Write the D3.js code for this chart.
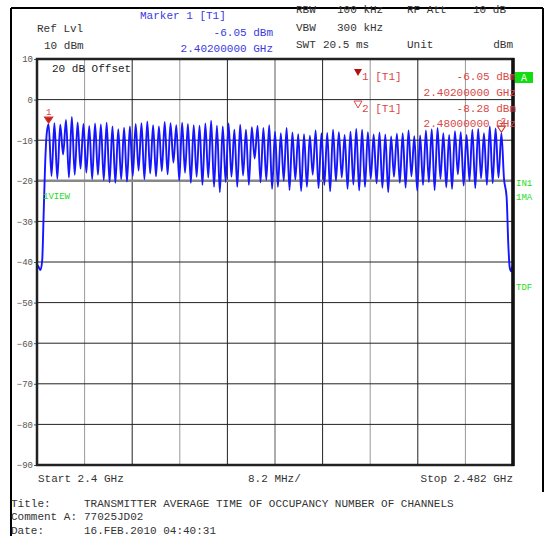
<!DOCTYPE html>
<html><head><meta charset="utf-8">
<script src="https://cdn.jsdelivr.net/npm/d3@7"></script>
<style>html,body{margin:0;padding:0;background:#fff;}svg{display:block;}text{font-family:"Liberation Mono","DejaVu Sans Mono",monospace;}</style>
</head><body>
<script>
// ---- data ----
const startMHz = 2400, stopMHz = 2482;
const yTicks = [10, 0, -10, -20, -30, -40, -50, -60, -70, -80, -90];
const firstChannelMHz = 2402;
const peaks = [
 -6.05,-5.8,-6.2,-5.0,-4.3,-5.6,-6.0,-6.5,-5.9,-6.1,
 -5.7,-6.6,-7.3,-6.9,-6.6,-6.0,-5.8,-5.4,-6.3,-6.6,
 -5.5,-5.8,-6.3,-5.7,-6.0,-6.3,-6.4,-5.9,-5.2,-6.4,
 -6.6,-5.9,-7.4,-6.2,-7.4,-6.8,-6.5,-7.0,-6.3,-7.9,
 -8.3,-7.0,-8.1,-8.5,-8.5,-8.9,-7.6,-8.3,-8.2,-7.4,
 -8.0,-8.7,-7.9,-7.2,-7.4,-8.0,-8.6,-8.1,-8.6,-9.1,
 -8.4,-8.3,-7.6,-9.0,-8.8,-7.6,-7.3,-7.0,-8.3,-8.7,
 -7.8,-8.0,-8.7,-7.4,-7.2,-8.3,-6.6,-7.1,-8.28];
const troughs = [
 -18.8,-19.5,-13.5,-19.2,-18.5,-17.0,-18.0,-19.6,-18.5,-19.8,
 -20.4,-20.5,-19.6,-20.2,-18.8,-17.5,-19.6,-18.2,-18.9,-17.6,
 -18.4,-15.5,-19.9,-18.0,-20.5,-19.0,-21.0,-19.2,-21.5,-22.8,
 -20.3,-19.0,-21.5,-18.7,-21.0,-14.5,-20.4,-19.8,-22.0,-21.5,
 -20.0,-22.3,-19.7,-22.5,-21.5,-18.5,-21.8,-21.0,-22.6,-20.0,
 -19.2,-22.0,-20.9,-22.4,-21.5,-19.5,-20.6,-21.7,-22.8,-19.0,
 -20.5,-21.7,-18.9,-22.4,-21.0,-20.3,-22.3,-19.5,-21.6,-22.0,
 -18.4,-21.2,-20.0,-21.8,-19.4,-21.0,-20.6,-19.2];
const leadIn = [[2400,-40.6],[2400.3,-41.3],[2400.6,-42.0],[2400.9,-39.5],[2401.15,-28],[2401.4,-16],[2401.7,-8]];
const tail = [[2480.45,-19.5],[2480.9,-24],[2481.2,-36],[2481.45,-41.5],[2481.7,-42.3],[2481.85,-41.2],[2482,-41.8]];
const markers = [{n:"1", f:2402, v:-6.05, filled:true}, {n:"2", f:2480, v:-8.28, filled:false}];

// ---- build trace ----
const trace = [...leadIn];
peaks.forEach((p,i)=>{
  trace.push([firstChannelMHz+i, p]);
  if (i < troughs.length) trace.push([firstChannelMHz+i+0.5, troughs[i]]);
});
trace.push(...tail);

const W=545,H=536;
const L=37,R=513,T=59,B=465;
const svg=d3.select("body").append("svg").attr("width",W).attr("height",H);
const x=d3.scaleLinear().domain([startMHz,stopMHz]).range([L,R]);
const y=d3.scaleLinear().domain([-90,10]).range([B,T]);

const txt=(s,xx,yy,o={})=>svg.append("text").attr("x",xx).attr("y",yy).text(s)
  .attr("font-size",o.size||11).attr("fill",o.fill||"#333").attr("text-anchor",o.anchor||"start");

// outer frame
svg.append("line").attr("x1",11).attr("x2",11).attr("y1",8).attr("y2",H).attr("stroke","#000").attr("stroke-width",2);
svg.append("line").attr("x1",11).attr("x2",543).attr("y1",8).attr("y2",8).attr("stroke","#000").attr("stroke-width",2);
svg.append("line").attr("x1",543).attr("x2",543).attr("y1",8).attr("y2",492).attr("stroke","#000").attr("stroke-width",2);

// grid
const g=svg.append("g");
const vt=d3.range(1,10).map(i=>startMHz+i*(stopMHz-startMHz)/10);
vt.forEach((f,i)=>{
  g.append("line").attr("x1",x(f)).attr("x2",x(f)).attr("y1",T).attr("y2",B)
   .attr("stroke", i%2===0? "#999":"#222").attr("stroke-width", i===4?1.6:1);
});
yTicks.slice(1,-1).forEach(v=>{
  g.append("line").attr("x1",L).attr("x2",R).attr("y1",y(v)).attr("y2",y(v))
   .attr("stroke", v===-20?"#888":"#222").attr("stroke-width", v===-20?2.5:1);
});
// y axis labels via d3 axis
const ya=svg.append("g").attr("transform",`translate(${L},0)`).call(d3.axisLeft(y).tickValues(yTicks).tickSize(3).tickFormat(d3.format("d")));
ya.select(".domain").remove();
ya.selectAll("text").attr("font-family","Liberation Mono").attr("font-size",9).attr("fill","#555").attr("dx",2);
ya.selectAll("line").attr("stroke","#555");

// trace
const line=d3.line().x(d=>x(d[0])).y(d=>y(d[1])).curve(d3.curveMonotoneX);
svg.append("path").datum(trace).attr("d",line).attr("fill","none").attr("stroke","#1515ff").attr("stroke-width",1.9).attr("stroke-linejoin","round");

// plot border
svg.append("rect").attr("x",L).attr("y",T).attr("width",R-L).attr("height",B-T).attr("fill","none").attr("stroke","#222").attr("stroke-width",2.5);
svg.append("line").attr("x1",R).attr("x2",R).attr("y1",T-1).attr("y2",B+1).attr("stroke","#111").attr("stroke-width",3.5);

// markers on trace
markers.forEach(m=>{
  const mx=x(m.f), my=y(m.v)-1;
  svg.append("path").attr("d",`M${mx-4},${my-6}L${mx+4},${my-6}L${mx},${my}Z`)
    .attr("fill",m.filled?"#c02020":"#fff").attr("stroke","#d03030").attr("stroke-width",1.2);
  svg.append("text").attr("x",mx+(m.n==="2"?2:0)).attr("y",my-8).text(m.n)
    .attr("font-size",9).attr("fill","#e04040").attr("text-anchor","middle");
});

// header
txt("Ref Lvl",37,32);
txt("10 dBm",44,49);
txt("Marker 1 [T1]",140,19,{fill:"#3a3ae0"});
txt("-6.05 dBm",273,36,{fill:"#3a3ae0",anchor:"end"});
txt("2.40200000 GHz",273,52,{fill:"#3a3ae0",anchor:"end"});
txt("RBW",296,13); txt("100 kHz",337,13); txt("RF Att",407,13); txt("10 dB",473,13);
txt("VBW",296,31); txt("300 kHz",337,31);
txt("SWT",296,48); txt("20.5 ms",323,48); txt("Unit",407,48); txt("dBm",513,48,{anchor:"end"});
svg.append("rect").attr("x",280).attr("y",0).attr("width",265).attr("height",5).attr("fill","#fff");

txt("20 dB Offset",52,72,{fill:"#222"});

// marker readouts
const red="#d84848";
svg.append("path").attr("d","M354,69L362,69L358,76Z").attr("fill","#b01010");
txt("1 [T1]",362,80,{fill:red});
txt("-6.05 dBm",516,80,{fill:red,anchor:"end"});
txt("2.40200000 GHz",516,96,{fill:red,anchor:"end"});
svg.append("path").attr("d","M354,101L362,101L358,108Z").attr("fill","#fff").attr("stroke",red);
txt("2 [T1]",362,112,{fill:red});
txt("-8.28 dBm",516,112,{fill:red,anchor:"end"});
txt("2.48000000 GHz",516,127,{fill:red,anchor:"end"});

// side labels
svg.append("rect").attr("x",515).attr("y",72).attr("width",18).attr("height",11).attr("fill","#11dd11");
txt("A",524,81,{fill:"#fff",anchor:"middle",size:10});
const green="#22dd22";
txt("1VIEW",43,199,{fill:green,size:9});
txt("IN1",516,186,{fill:green,size:9});
txt("1MA",516,200,{fill:green,size:9});
txt("TDF",516,290,{fill:green,size:9});

// bottom
txt("Start 2.4 GHz",38,482);
txt("8.2 MHz/",248,482);
txt("Stop 2.482 GHz",513,482,{anchor:"end"});
txt("Title:",11,507);
txt("TRANSMITTER AVERAGE TIME OF OCCUPANCY NUMBER OF CHANNELS",84,507);
txt("Comment A:",11,520);
txt("77025JD02",84,520);
txt("Date:",11,534);
txt("16.FEB.2010  04:40:31",84,534);
</script>
</body></html>
